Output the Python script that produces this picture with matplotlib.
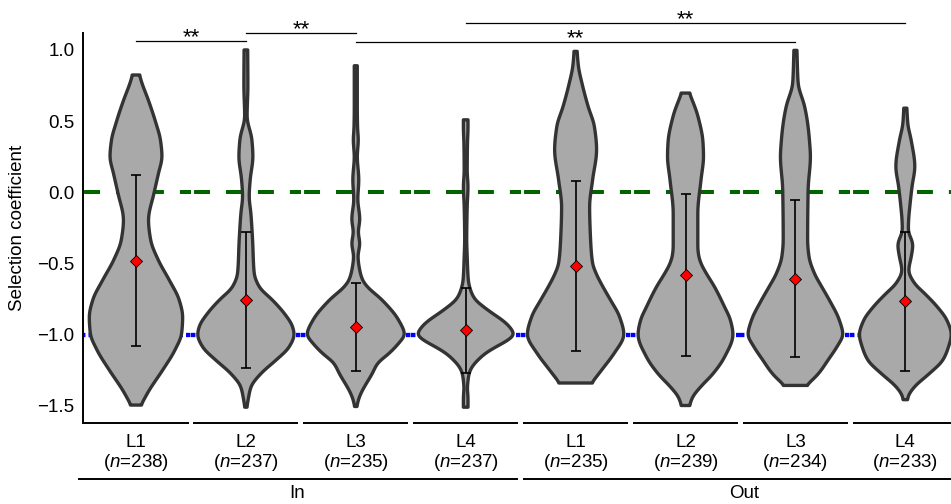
import numpy as np
import matplotlib
matplotlib.use("Agg")
import matplotlib.pyplot as plt

plt.rcParams['font.family'] = ['Liberation Sans', 'DejaVu Sans']
plt.rcParams['mathtext.fontset'] = 'custom'
plt.rcParams['mathtext.it'] = 'Liberation Sans:italic'
plt.rcParams['mathtext.rm'] = 'Liberation Sans'
plt.rcParams['lines.scale_dashes'] = False

# ---------------- data ----------------
groups = ['In', 'Out']
lines_lbl = ['L1', 'L2', 'L3', 'L4', 'L1', 'L2', 'L3', 'L4']
n_counts = [238, 237, 235, 237, 235, 239, 234, 233]
means = [-0.48, -0.758, -0.946, -0.971, -0.518, -0.582, -0.607, -0.766]
sds = [0.598, 0.477, 0.312, 0.297, 0.598, 0.568, 0.551, 0.488]

# violin profiles: value levels and relative density (half-width, px-like units)
in_l1_y = [-1.495, -1.39, -1.249, -1.108, -0.991, -0.874, -0.758, -0.617, -0.476, -0.336, -0.195, -0.007, 0.133, 0.25, 0.367, 0.485, 0.649, 0.766, 0.824]
in_l1_d = [5, 13.3, 26.7, 39, 45.7, 46.7, 43.3, 33.3, 22.3, 14.7, 12.5, 18, 22.5, 26, 24.5, 20, 12.3, 6, 3.5]
in_l2_y = [-1.51, -1.44, -1.368, -1.274, -1.18, -1.087, -1.0, -0.944, -0.85, -0.758, -0.664, -0.57, -0.336, -0.148, -0.03, 0.087, 0.25, 0.37, 0.532, 0.75, 1.0]
in_l2_d = [1, 2.7, 5, 15, 30, 43.3, 48.3, 46.7, 38.3, 26.7, 13.3, 8.3, 6.7, 5, 3.3, 4.3, 7, 6, 1.2, 2, 1.8]
in_l3_y = [-1.505, -1.45, -1.4, -1.35, -1.28, -1.2, -1.134, -1.06, -1.0, -0.9, -0.758, -0.66, -0.62, -0.55, -0.45, -0.36, -0.28, -0.19, -0.05, 0.087, 0.25, 0.37, 0.45, 0.6, 0.889]
in_l3_d = [1, 3, 6, 10, 16, 22, 33, 43, 48.8, 43, 26.5, 11, 7, 4, 2.2, 4, 2.5, 4, 2, 3, 1.5, 2.5, 1.8, 1.5, 1.5]
in_l4_y = [-1.51, -1.44, -1.38, -1.33, -1.275, -1.23, -1.18, -1.13, -1.087, -1.04, -1.0, -0.946, -0.9, -0.852, -0.8, -0.758, -0.71, -0.618, -0.45, -0.336, -0.1, 0.04, 0.15, 0.25, 0.35, 0.45, 0.509]
in_l4_d = [2.3, 2.3, 1.7, 2.2, 3.3, 6, 12, 20, 30, 42, 48.3, 44, 37, 27, 17, 10, 6, 2.6, 1.5, 1.0, 1.5, 2.3, 1.5, 1.6, 1.8, 2.3, 2.3]
out_l1_y = [-1.34, -1.228, -1.134, -1.0, -0.875, -0.758, -0.66, -0.57, -0.5, -0.336, -0.101, 0.087, 0.298, 0.462, 0.603, 0.768, 0.885, 0.99]
out_l1_d = [16, 28.3, 38.3, 48.3, 44, 35, 27, 20.5, 17, 15, 14, 17, 21, 18.8, 12.5, 6.3, 2.8, 1.5]
out_l2_y = [-1.498, -1.44, -1.368, -1.275, -1.158, -1.0, -0.9, -0.805, -0.664, -0.57, -0.5, -0.44, -0.383, -0.148, 0.087, 0.25, 0.35, 0.532, 0.697]
out_l2_d = [4, 7, 15, 27.5, 39, 47.5, 45, 39, 29, 20.8, 15.5, 13, 12.3, 12.3, 15.5, 18, 17.5, 12.5, 4]
out_l3_y = [-1.357, -1.275, -1.18, -1.08, -1.0, -0.9, -0.758, -0.66, -0.57, -0.45, -0.336, 0.016, 0.25, 0.368, 0.486, 0.603, 0.768, 0.997]
out_l3_d = [11, 23, 32.5, 42, 47.5, 44, 34, 26, 19, 13.5, 12.2, 12.7, 15, 14, 12.2, 9.2, 2.7, 1.5]
out_l4_y = [-1.457, -1.43, -1.368, -1.274, -1.18, -1.09, -1.0, -0.9, -0.805, -0.71, -0.64, -0.55, -0.45, -0.37, -0.265, -0.195, -0.1, 0.04, 0.18, 0.368, 0.48, 0.591]
out_l4_d = [2, 3, 9, 24, 37.5, 43, 46, 41.7, 32, 19.2, 9.2, 3.4, 6, 7.5, 3, 3.3, 4.5, 6.7, 9.5, 5.8, 2.5, 1.5]

# significance brackets (1-based category positions)
bracket_left = [1, 2, 3, 4]
bracket_right = [2, 3, 7, 8]
bracket_height = [1.061, 1.117, 1.054, 1.188]
bracket_label = ['**', '**', '**', '**']

# ---------------- helpers ----------------
def pchip(x, y, xn):
    x = np.asarray(x, float)
    y = np.asarray(y, float)
    h = np.diff(x)
    d = np.diff(y) / h
    m = np.zeros_like(y)
    for k in range(1, len(x) - 1):
        if d[k - 1] * d[k] > 0:
            w1 = 2 * h[k] + h[k - 1]
            w2 = h[k] + 2 * h[k - 1]
            m[k] = (w1 + w2) / (w1 / d[k - 1] + w2 / d[k])
    m[0] = d[0]
    m[-1] = d[-1]
    idx = np.clip(np.searchsorted(x, xn) - 1, 0, len(h) - 1)
    t = (xn - x[idx]) / h[idx]
    h00 = 2 * t**3 - 3 * t**2 + 1
    h10 = t**3 - 2 * t**2 + t
    h01 = -2 * t**3 + 3 * t**2
    h11 = t**3 - t**2
    return h00 * y[idx] + h10 * h[idx] * m[idx] + h01 * y[idx + 1] + h11 * h[idx] * m[idx + 1]


def smooth(v, yy, sigma):
    dy = yy[1] - yy[0]
    r = int(np.ceil(3 * sigma / dy))
    k = np.exp(-0.5 * (np.arange(-r, r + 1) * dy / sigma) ** 2)
    k /= k.sum()
    vp = np.concatenate([np.full(r, v[0]), v, np.full(r, v[-1])])
    return np.convolve(vp, k, mode='valid')

# ---------------- figure ----------------
W, H = 951, 504
fig = plt.figure(figsize=(W / 100, H / 100), dpi=100)
ax_left, ax_right, ax_top, ax_bot = 83, 958.3, 33, 423
ax = fig.add_axes([ax_left / W, 1 - ax_bot / H, (ax_right - ax_left) / W, (ax_bot - ax_top) / H])
ax.set_xlim(0.518, 8.482)
ax.set_ylim(-1.621, 1.119)

positions = np.arange(1, len(lines_lbl) + 1)
DENS_SCALE = 1 / 109.9
FS = 13.5

# reference lines (segment per category, behind violins)
ax.hlines([0.0] * len(positions), positions - 0.5, positions + 0.5, colors='#006400',
          linewidth=2.9, linestyles=[(20.8, (11.5, 11.5))], zorder=1)
ax.hlines([-1.0] * len(positions), positions - 0.5, positions + 0.5, colors='#0000FF',
          linewidth=3.1, linestyles=[(0, (3.2, 2.2))], zorder=1)

profiles_y = [in_l1_y, in_l2_y, in_l3_y, in_l4_y, out_l1_y, out_l2_y, out_l3_y, out_l4_y]
profiles_d = [in_l1_d, in_l2_d, in_l3_d, in_l4_d, out_l1_d, out_l2_d, out_l3_d, out_l4_d]

for pos, vy, vd in zip(positions, profiles_y, profiles_d):
    yy = np.linspace(vy[0], vy[-1], 600)
    ww = smooth(pchip(vy, vd, yy), yy, 0.018)
    ww = np.clip(ww, 0.3, None) * DENS_SCALE
    xs = np.concatenate([pos - ww, (pos + ww)[::-1]])
    ys = np.concatenate([yy, yy[::-1]])
    ax.fill(xs, ys, facecolor='#A9A9A9', edgecolor='#333333', linewidth=2.4,
            joinstyle='round', zorder=2)

ax.errorbar(positions, means, yerr=sds, fmt='none', ecolor='black', elinewidth=1.2,
            capsize=3.8, capthick=1.2, zorder=3)
ax.plot(positions, means, linestyle='none', marker='D', markersize=5.8,
        markerfacecolor='#FF0000', markeredgecolor='black', markeredgewidth=0.6, zorder=4)

# brackets
for l, r, hgt, lab in zip(bracket_left, bracket_right, bracket_height, bracket_label):
    ax.plot([l, r], [hgt, hgt], color='black', linewidth=0.9, clip_on=False, zorder=5)
    ax.text((l + r) / 2, hgt - 0.012, lab, ha='center', va='baseline', fontsize=16,
            clip_on=False)

# axes styling
for s in ['top', 'right', 'bottom']:
    ax.spines[s].set_visible(False)
ax.spines['left'].set_linewidth(1.4)
yt = [-1.5, -1.0, -0.5, 0.0, 0.5, 1.0]
ax.set_yticks(yt)
ax.set_yticklabels([f'{v:.1f}'.replace('-', '\u2212') for v in yt])
ax.tick_params(axis='y', length=0, pad=6, labelsize=FS)
ax.set_xticks(positions)
ax.set_xticklabels([f'{l}\n($\\mathit{{n}}$={n})' for l, n in zip(lines_lbl, n_counts)])
ax.tick_params(axis='x', length=0, pad=8, labelsize=FS)
for t in ax.get_xticklabels():
    t.set_linespacing(1.05)

# bottom axis split per category
ax.hlines([ax.get_ylim()[0]] * len(positions), positions - 0.478, positions + 0.478,
          colors='black', linewidth=1.4, clip_on=False)

# group lines and labels
xtr = ax.get_xaxis_transform()
group_spans = [(0.48, 4.465), (4.535, 8.6)]
group_centers = [2.47, 6.53]
for g, (x0, x1), c in zip(groups, group_spans, group_centers):
    ax.plot([x0, x1], [-0.1436, -0.1436], color='black', linewidth=1.4, transform=xtr,
            clip_on=False)
    ax.text(c, -0.158, g, ha='center', va='top', fontsize=FS, transform=xtr)

ax.set_ylabel('Selection coefficient', fontsize=FS)
ax.yaxis.set_label_coords(-0.0651, 0.5)

fig.savefig('out.png', dpi=100)
